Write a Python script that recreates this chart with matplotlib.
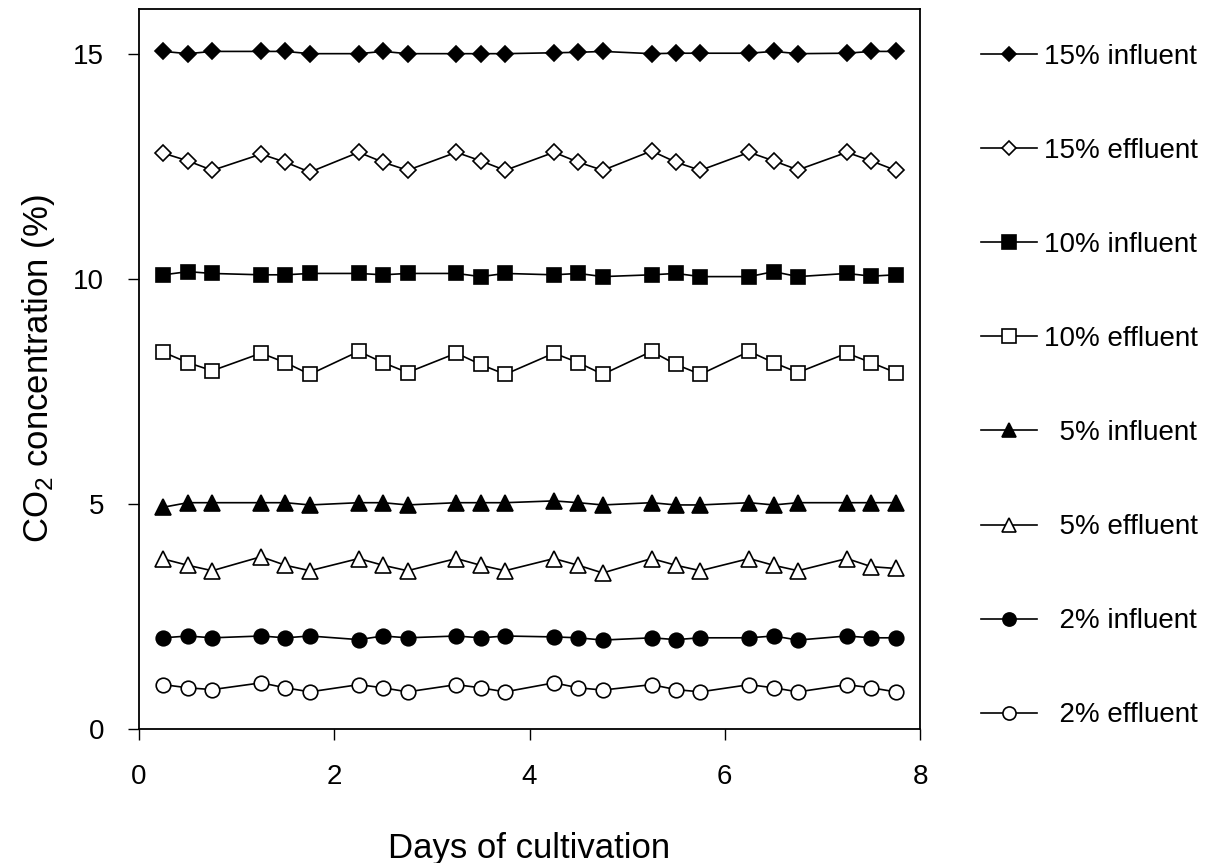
import matplotlib
matplotlib.use("Agg")
import matplotlib.pyplot as plt

plt.rcParams['font.family'] = ['Liberation Sans', 'DejaVu Sans']
plt.rcParams['mathtext.fontset'] = 'custom'
plt.rcParams['mathtext.rm'] = 'Liberation Sans'
plt.rcParams['mathtext.it'] = 'Liberation Sans:italic'

# sampling times (three per day)
days = [0.25, 0.5, 0.75, 1.25, 1.5, 1.75, 2.25, 2.5, 2.75, 3.25, 3.5, 3.75,
        4.25, 4.5, 4.75, 5.25, 5.5, 5.75, 6.25, 6.5, 6.75, 7.25, 7.5, 7.75]

inf15 = [15.05, 15.0, 15.05, 15.05, 15.05, 15.0, 15.0, 15.05, 15.0, 15.0, 15.0, 15.0,
         15.02, 15.03, 15.05, 15.0, 15.01, 15.01, 15.01, 15.05, 15.0, 15.01, 15.05, 15.05]
eff15 = [12.79, 12.62, 12.41, 12.77, 12.59, 12.37, 12.81, 12.59, 12.41, 12.81, 12.62, 12.41,
         12.81, 12.59, 12.41, 12.84, 12.59, 12.41, 12.81, 12.62, 12.42, 12.81, 12.62, 12.41]
inf10 = [10.09, 10.16, 10.12, 10.09, 10.09, 10.12, 10.12, 10.09, 10.12, 10.12, 10.05, 10.12,
         10.09, 10.12, 10.05, 10.09, 10.12, 10.05, 10.05, 10.16, 10.05, 10.12, 10.06, 10.09]
eff10 = [8.37, 8.14, 7.96, 8.35, 8.14, 7.88, 8.39, 8.14, 7.92, 8.35, 8.10, 7.88,
         8.35, 8.14, 7.88, 8.39, 8.10, 7.88, 8.39, 8.14, 7.92, 8.35, 8.14, 7.92]
inf5 = [4.93, 5.03, 5.03, 5.03, 5.03, 4.98, 5.03, 5.03, 4.98, 5.03, 5.03, 5.03,
        5.07, 5.03, 4.98, 5.03, 4.98, 4.98, 5.03, 4.98, 5.03, 5.03, 5.03, 5.03]
eff5 = [3.78, 3.64, 3.52, 3.83, 3.64, 3.52, 3.79, 3.64, 3.52, 3.79, 3.64, 3.52,
        3.79, 3.64, 3.47, 3.79, 3.64, 3.52, 3.79, 3.64, 3.52, 3.79, 3.61, 3.57]
inf2 = [2.03, 2.07, 2.03, 2.07, 2.03, 2.07, 1.99, 2.07, 2.03, 2.07, 2.03, 2.07,
        2.05, 2.03, 1.98, 2.03, 1.99, 2.03, 2.03, 2.07, 1.98, 2.07, 2.03, 2.03]
eff2 = [0.99, 0.92, 0.88, 1.03, 0.92, 0.83, 0.99, 0.92, 0.83, 0.99, 0.92, 0.83,
        1.03, 0.92, 0.87, 0.99, 0.88, 0.83, 0.99, 0.92, 0.83, 0.99, 0.92, 0.83]

labels = ['15% influent', '15% effluent', '10% influent', '10% effluent',
          '  5% influent', '  5% effluent', '  2% influent', '  2% effluent']

fig = plt.figure(figsize=(12.09, 8.63), dpi=100)
ax = fig.add_axes([0.115, 0.155, 0.646, 0.835])

series = [inf15, eff15, inf10, eff10, inf5, eff5, inf2, eff2]
markers = ['D', 'D', 's', 's', '^', '^', 'o', 'o']
sizes = [8, 8, 10.5, 10.5, 11, 11, 10.5, 10.5]
for i, vals in enumerate(series):
    face = 'black' if i % 2 == 0 else 'white'
    ax.plot(days, vals, color='black', lw=1.2, marker=markers[i], ms=sizes[i],
            mfc=face, mec='black', mew=1.2, label=labels[i])

ax.set_xlim(0, 8)
ax.set_ylim(0, 16)
ax.set_xticks([0, 2, 4, 6, 8])
ax.set_yticks([0, 5, 10, 15])
ax.tick_params(direction='out', length=8, width=1, labelsize=20, pad=17,
               top=False, right=False)
for s in ax.spines.values():
    s.set_linewidth(1.3)

ax.set_xlabel('Days of cultivation', fontsize=25, labelpad=30)
ax.set_ylabel('CO$_2$ concentration (%)', fontsize=25, labelpad=12)

fig.legend(loc='upper left', bbox_to_anchor=(981 / 1209, 1 - 44 / 863),
           frameon=False, fontsize=20, handlelength=2.0, handletextpad=0.25,
           labelspacing=2.45, borderpad=0, borderaxespad=0, markerscale=0.9)

fig.savefig('out.png', dpi=100)
